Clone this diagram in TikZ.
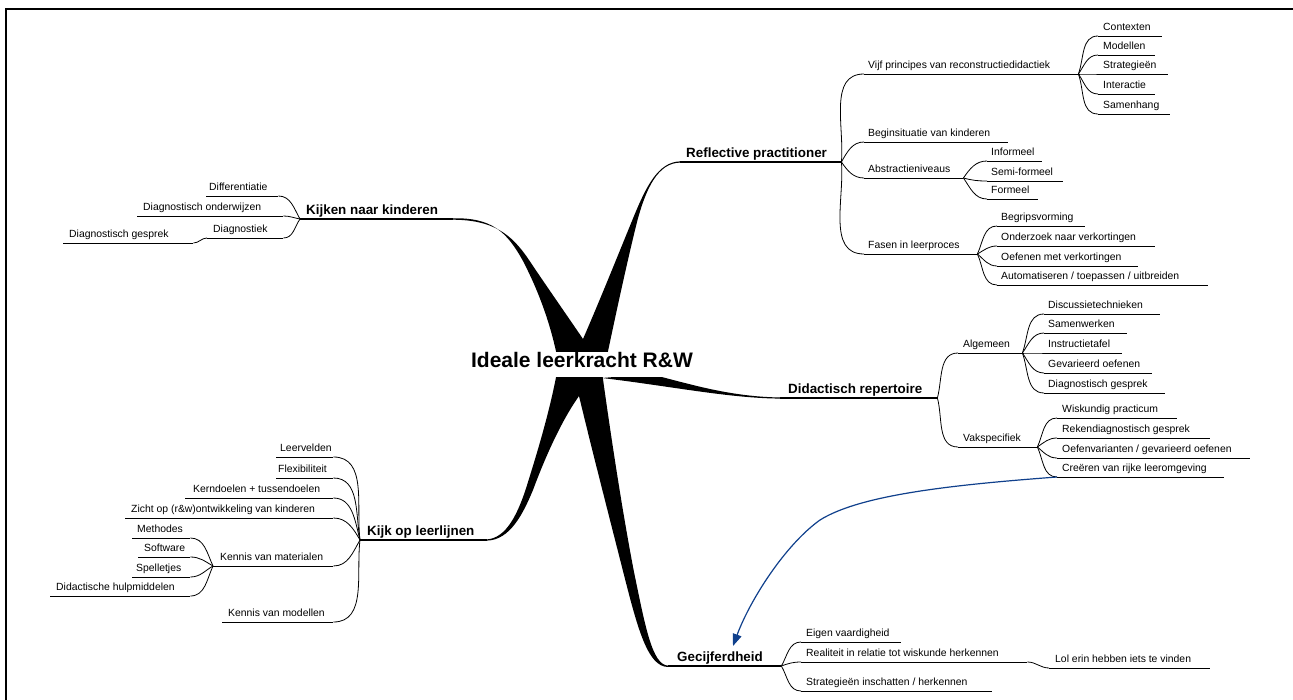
\documentclass[tikz,border=0pt]{standalone}
\usepackage{fontspec}
\setmainfont{Liberation Sans}
\usetikzlibrary{arrows.meta}
\definecolor{relblue}{RGB}{16,64,140}
\newcommand{\mmnode}[7]{\node[#2] (#1) at (#3,#4) {\makebox[#5pt][l]{\hspace*{#6pt}#7}};\draw[#2 line] (#1.south west) -- (#1.south east);}
\begin{document}
\begin{tikzpicture}[x=1pt,y=-1pt,
  leaf/.style={anchor=south west, inner xsep=0pt, inner ysep=5pt, text depth=0pt, font=\fontsize{10.4}{12}\selectfont},
  main/.style={anchor=south west, inner xsep=0pt, inner ysep=4.5pt, text depth=0pt, font=\fontsize{13.4}{16}\selectfont\bfseries},
  leaf line/.style={line width=0.8pt},
  main line/.style={line width=1.1pt},
  conn/.style={line width=0.8pt},
  rel/.style={draw=relblue, line width=1.2pt, -{Triangle[length=12pt,width=9pt]}},
  branch/.style={fill=black, draw=none}]
\useasboundingbox (0,0) rectangle (1293,700);
% frame
\draw[line width=1.3pt] (1293,9) -- (6,9) -- (6,700);

% tapered main branches
\path[branch] (453,218.3) .. controls (492,217.5) and (507,232) .. (523,261)
  .. controls (538,290) and (550,322) .. (557,356)
  -- (607,356)
  .. controls (615,318) and (627,262) .. (637,222)
  .. controls (646,188) and (658,163) .. (680,162.6)
  -- (680,161.4)
  .. controls (658,162) and (646,187) .. (634,216)
  .. controls (618,255) and (600,300) .. (583,339)
  .. controls (566,314) and (545,284) .. (529,260)
  .. controls (511,233) and (492,220) .. (453,219.7) -- cycle;
\path[branch] (557,372) .. controls (550,410) and (538,450) .. (528,482)
  .. controls (518,515) and (506,538) .. (487,539.4)
  -- (487,540.6)
  .. controls (510,540) and (523,514) .. (533,490)
  .. controls (546,455) and (562,420) .. (579,396)
  .. controls (592,450) and (610,520) .. (624,575)
  .. controls (638,630) and (648,666.8) .. (668,667)
  -- (668,665.6)
  .. controls (652,665) and (645,625) .. (634,572)
  .. controls (622,510) and (610,430) .. (602,372) -- cycle;
\path[branch] (650,374) .. controls (690,384) and (730,397) .. (782,397.5)
  -- (782,398.6)
  .. controls (730,398.5) and (670,386) .. (602,378) -- cycle;

% central topic
\node[fill=white, font=\fontsize{21}{24}\selectfont\bfseries, inner xsep=3pt, inner ysep=0pt, text height=15.5pt, text depth=9pt, anchor=base] (center) at (582,368) {Ideale leerkracht R\&W};

% ---------- Reflective practitioner ----------
\mmnode{rp}{main}{680}{162}{161}{6}{Reflective practitioner}
\mmnode{vijf}{leaf}{864}{74}{214}{4}{Vijf principes van reconstructiedidactiek}
\mmnode{contexten}{leaf}{1098}{36}{64}{5}{Contexten}
\mmnode{modellen}{leaf}{1098}{55}{57}{5}{Modellen}
\mmnode{strategieen}{leaf}{1098}{74}{70}{5}{Strategieën}
\mmnode{interactie}{leaf}{1098}{94}{57}{5}{Interactie}
\mmnode{samenhang}{leaf}{1098}{114}{72}{5}{Samenhang}
\mmnode{begin}{leaf}{864}{142}{144}{4}{Beginsituatie van kinderen}
\mmnode{abstr}{leaf}{864}{178}{99}{4}{Abstractieniveaus}
\mmnode{informeel}{leaf}{987}{161}{55}{4}{Informeel}
\mmnode{semi}{leaf}{987}{181}{76}{4}{Semi-formeel}
\mmnode{formeel}{leaf}{987}{199}{51}{4}{Formeel}
\mmnode{fasen}{leaf}{864}{254}{113}{4}{Fasen in leerproces}
\mmnode{begrip}{leaf}{997}{226}{88}{4}{Begripsvorming}
\mmnode{onderzoek}{leaf}{997}{246}{158}{4}{Onderzoek naar verkortingen}
\mmnode{oefenen}{leaf}{997}{266}{141}{4}{Oefenen met verkortingen}
\mmnode{autom}{leaf}{997}{285}{211}{4}{Automatiseren / toepassen / uitbreiden}

\draw[conn] (rp.south east) to[out=85,in=180] (vijf.south west);
\draw[conn] (rp.south east) to[out=60,in=180] (begin.south west);
\draw[conn] (rp.south east) to[out=-55,in=180] (abstr.south west);
\draw[conn] (rp.south east) to[out=-85,in=180] (fasen.south west);
\draw[conn] (vijf.south east) to[out=70,in=180] (contexten.south west);
\draw[conn] (vijf.south east) to[out=55,in=180] (modellen.south west);
\draw[conn] (vijf.south east) to[out=0,in=180] (strategieen.south west);
\draw[conn] (vijf.south east) to[out=-55,in=180] (interactie.south west);
\draw[conn] (vijf.south east) to[out=-70,in=180] (samenhang.south west);
\draw[conn] (abstr.south east) to[out=55,in=180] (informeel.south west);
\draw[conn] (abstr.south east) to[out=-15,in=180] (semi.south west);
\draw[conn] (abstr.south east) to[out=-55,in=180] (formeel.south west);
\draw[conn] (fasen.south east) to[out=65,in=180] (begrip.south west);
\draw[conn] (fasen.south east) to[out=30,in=180] (onderzoek.south west);
\draw[conn] (fasen.south east) to[out=-40,in=180] (oefenen.south west);
\draw[conn] (fasen.south east) to[out=-65,in=180] (autom.south west);

% ---------- Didactisch repertoire ----------
\mmnode{dr}{main}{780}{398}{157}{8}{Didactisch repertoire}
\mmnode{algemeen}{leaf}{958}{353}{64}{5}{Algemeen}
\mmnode{discussie}{leaf}{1044}{314}{116}{4}{Discussietechnieken}
\mmnode{samenwerken}{leaf}{1044}{333}{83}{4}{Samenwerken}
\mmnode{instructie}{leaf}{1044}{353}{78}{4}{Instructietafel}
\mmnode{gevarieerd}{leaf}{1044}{373}{108}{4}{Gevarieerd oefenen}
\mmnode{diagg}{leaf}{1044}{393}{121}{4}{Diagnostisch gesprek}
\mmnode{vakspec}{leaf}{958}{447}{79}{5}{Vakspecifiek}
\mmnode{wiskundig}{leaf}{1057}{418}{120}{5}{Wiskundig practicum}
\mmnode{rekendiag}{leaf}{1057}{438}{153}{5}{Rekendiagnostisch gesprek}
\mmnode{oefenvar}{leaf}{1057}{458}{193}{5}{Oefenvarianten / gevarieerd oefenen}
\mmnode{creeren}{leaf}{1057}{477}{167}{5}{Creëren van rijke leeromgeving}

\draw[conn] (dr.south east) to[out=75,in=180] (algemeen.south west);
\draw[conn] (dr.south east) to[out=-75,in=180] (vakspec.south west);
\draw[conn] (algemeen.south east) to[out=70,in=180] (discussie.south west);
\draw[conn] (algemeen.south east) to[out=55,in=180] (samenwerken.south west);
\draw[conn] (algemeen.south east) to[out=0,in=180] (instructie.south west);
\draw[conn] (algemeen.south east) to[out=-55,in=180] (gevarieerd.south west);
\draw[conn] (algemeen.south east) to[out=-70,in=180] (diagg.south west);
\draw[conn] (vakspec.south east) to[out=65,in=180] (wiskundig.south west);
\draw[conn] (vakspec.south east) to[out=35,in=180] (rekendiag.south west);
\draw[conn] (vakspec.south east) to[out=-40,in=180] (oefenvar.south west);
\draw[conn] (vakspec.south east) to[out=-65,in=180] (creeren.south west);

% ---------- Gecijferdheid ----------
\mmnode{gecijf}{main}{668}{666}{113}{9}{Gecijferdheid}
\mmnode{eigen}{leaf}{801}{642}{100}{5}{Eigen vaardigheid}
\mmnode{realiteit}{leaf}{801}{662}{226}{5}{Realiteit in relatie tot wiskunde herkennen}
\mmnode{lol}{leaf}{1049}{668}{161}{6}{Lol erin hebben iets te vinden}
\mmnode{strat}{leaf}{801}{691}{191}{5}{Strategieën inschatten / herkennen}

\draw[conn] (gecijf.south east) to[out=60,in=180] (eigen.south west);
\draw[conn] (gecijf.south east) to[out=20,in=180] (realiteit.south west);
\draw[conn] (gecijf.south east) to[out=-60,in=180] (strat.south west);
\draw[conn] (realiteit.south east) to[out=0,in=180] (lol.south west);

% relationship arrow
\coordinate (tip) at (733,646);
\draw[rel] (creeren.south west) .. controls (950,485) and (860,495) .. (820,520)
  .. controls (785,545) and (750,600) .. (tip);

% ---------- Kijken naar kinderen ----------
\mmnode{knk}{main}{300}{219}{153}{6}{Kijken naar kinderen}
\mmnode{diff}{leaf}{206}{196}{72}{3}{Differentiatie}
\mmnode{diagond}{leaf}{137}{216}{146}{6}{Diagnostisch onderwijzen}
\mmnode{diagnostiek}{leaf}{207}{238}{76}{6}{Diagnostiek}
\mmnode{diaggespr}{leaf}{63}{243}{130}{6}{Diagnostisch gesprek}

\draw[conn] (knk.south west) to[out=120,in=0] (diff.south east);
\draw[conn] (knk.south west) to[out=170,in=0] (diagond.south east);
\draw[conn] (knk.south west) to[out=235,in=0] (diagnostiek.south east);
\draw[conn] (diagnostiek.south west) to[out=180,in=0] (diaggespr.south east);

% ---------- Kijk op leerlijnen ----------
\mmnode{kol}{main}{360}{540}{127}{7}{Kijk op leerlijnen}
\mmnode{leervelden}{leaf}{276}{457}{57}{4}{Leervelden}
\mmnode{flex}{leaf}{276}{478}{57}{2}{Flexibiliteit}
\mmnode{kerndoelen}{leaf}{185}{498}{148}{8}{Kerndoelen + tussendoelen}
\mmnode{zicht}{leaf}{125}{518}{208}{6}{Zicht op (r\&w)ontwikkeling van kinderen}
\mmnode{kvm}{leaf}{213}{566}{120}{7}{Kennis van materialen}
\mmnode{methodes}{leaf}{132}{538}{58}{5}{Methodes}
\mmnode{software}{leaf}{138}{557}{52}{6}{Software}
\mmnode{spelletjes}{leaf}{132}{577}{58}{4}{Spelletjes}
\mmnode{didhulp}{leaf}{50}{596}{140}{6}{Didactische hulpmiddelen}
\mmnode{kvmod}{leaf}{222}{622}{111}{6}{Kennis van modellen}

\draw[conn] (kol.south west) to[out=97,in=0] (leervelden.south east);
\draw[conn] (kol.south west) to[out=100,in=0] (flex.south east);
\draw[conn] (kol.south west) to[out=105,in=0] (kerndoelen.south east);
\draw[conn] (kol.south west) to[out=120,in=0] (zicht.south east);
\draw[conn] (kol.south west) to[out=240,in=0] (kvm.south east);
\draw[conn] (kol.south west) to[out=263,in=0] (kvmod.south east);
\draw[conn] (kvm.south west) to[out=115,in=0] (methodes.south east);
\draw[conn] (kvm.south west) to[out=150,in=0] (software.south east);
\draw[conn] (kvm.south west) to[out=210,in=0] (spelletjes.south east);
\draw[conn] (kvm.south west) to[out=245,in=0] (didhulp.south east);
\end{tikzpicture}
\end{document}
